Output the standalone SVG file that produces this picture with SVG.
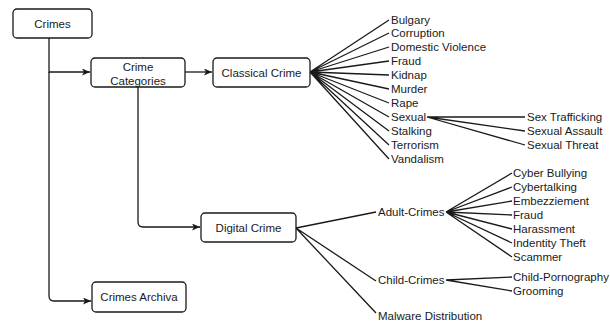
<svg xmlns="http://www.w3.org/2000/svg" width="610" height="322" viewBox="0 0 610 322">
<style>
  .box { fill: #ffffff; stroke: #1a1a1a; stroke-width: 1.3; }
  .lbl { font-family: "Liberation Sans", Arial, sans-serif; font-size: 11.5px; fill: #1a1a1a; }
  .mid { text-anchor: middle; }
  .ln { fill: none; stroke: #1a1a1a; stroke-width: 1.3; }
</style>
<defs>
  <marker id="arr" markerUnits="userSpaceOnUse" markerWidth="10" markerHeight="10" refX="8" refY="3.5" orient="auto">
    <path d="M0,0 L8,3.5 L0,7 L2,3.5 z" fill="#1a1a1a"/>
  </marker>
</defs>
<rect width="610" height="322" fill="#ffffff"/>
<g id="connectors">
  <path class="ln" d="M49,38 V72 H90" marker-end="url(#arr)"/>
  <path class="ln" d="M49,72 V296 Q49,301 54,301 H91" marker-end="url(#arr)"/>
  <path class="ln" d="M185,72 H212" marker-end="url(#arr)"/>
  <path class="ln" d="M138,87 V222 Q138,227 143,227 H200" marker-end="url(#arr)"/>
  <g id="classical-fan">
    <path class="ln" d="M310,72 L389,20 M310,72 L389,33 M310,72 L389,47 M310,72 L389,61 M310,72 L389,75 M310,72 L389,89 M310,72 L389,103 M310,72 L389,117 M310,72 L389,131 M310,72 L389,145 M310,72 L389,159"/>
  </g>
  <g id="sexual-fan">
    <path class="ln" d="M427,117 L525,117 M427,117 L525,131 M427,117 L525,145"/>
  </g>
  <g id="digital-fan">
    <path class="ln" d="M296,228 L376,212 M296,228 L376,281 M296,228 L376,313"/>
  </g>
  <g id="adult-fan">
    <path class="ln" d="M446,212 L512,173 M446,212 L512,187 M446,212 L512,201 M446,212 L512,215 M446,212 L512,229 M446,212 L512,243 M446,212 L512,257"/>
  </g>
  <g id="child-fan">
    <path class="ln" d="M446,280 L512,277 M446,280 L512,291"/>
  </g>
</g>
<g id="crimes">
  <rect class="box" x="13" y="9" width="79" height="29" rx="4"/>
  <text class="lbl mid" x="52.5" y="28">Crimes</text>
</g>
<g id="crime-categories">
  <rect class="box" x="91" y="58" width="94" height="29" rx="4"/>
  <text class="lbl mid" x="138" y="71">Crime</text>
  <text class="lbl mid" x="138" y="85">Categories</text>
</g>
<g id="classical-crime">
  <rect class="box" x="213" y="58" width="97" height="29" rx="4"/>
  <text class="lbl mid" x="261.5" y="77">Classical Crime</text>
</g>
<g id="digital-crime">
  <rect class="box" x="201" y="213" width="95" height="29" rx="4"/>
  <text class="lbl mid" x="248.5" y="232">Digital Crime</text>
</g>
<g id="crimes-archiva">
  <rect class="box" x="92" y="282" width="94" height="30" rx="4"/>
  <text class="lbl mid" x="139" y="301">Crimes Archiva</text>
</g>
<g id="classical-leaves">
  <text class="lbl" x="391" y="24">Bulgary</text>
  <text class="lbl" x="391" y="37">Corruption</text>
  <text class="lbl" x="391" y="51">Domestic Violence</text>
  <text class="lbl" x="391" y="65">Fraud</text>
  <text class="lbl" x="391" y="79">Kidnap</text>
  <text class="lbl" x="391" y="93">Murder</text>
  <text class="lbl" x="391" y="107">Rape</text>
  <text class="lbl" x="391" y="121">Sexual</text>
  <text class="lbl" x="391" y="135">Stalking</text>
  <text class="lbl" x="391" y="149">Terrorism</text>
  <text class="lbl" x="391" y="163">Vandalism</text>
</g>
<g id="sexual-leaves">
  <text class="lbl" x="527" y="121">Sex Trafficking</text>
  <text class="lbl" x="527" y="135">Sexual Assault</text>
  <text class="lbl" x="527" y="149">Sexual Threat</text>
</g>
<g id="digital-leaves">
  <text class="lbl" x="378" y="216">Adult-Crimes</text>
  <text class="lbl" x="378" y="284">Child-Crimes</text>
  <text class="lbl" x="378" y="320">Malware Distribution</text>
</g>
<g id="adult-leaves">
  <text class="lbl" x="513" y="177">Cyber Bullying</text>
  <text class="lbl" x="513" y="191">Cybertalking</text>
  <text class="lbl" x="513" y="205">Embezziement</text>
  <text class="lbl" x="513" y="219">Fraud</text>
  <text class="lbl" x="513" y="233">Harassment</text>
  <text class="lbl" x="513" y="247">Indentity Theft</text>
  <text class="lbl" x="513" y="261">Scammer</text>
</g>
<g id="child-leaves">
  <text class="lbl" x="513" y="281">Child-Pornography</text>
  <text class="lbl" x="513" y="295">Grooming</text>
</g>
</svg>
